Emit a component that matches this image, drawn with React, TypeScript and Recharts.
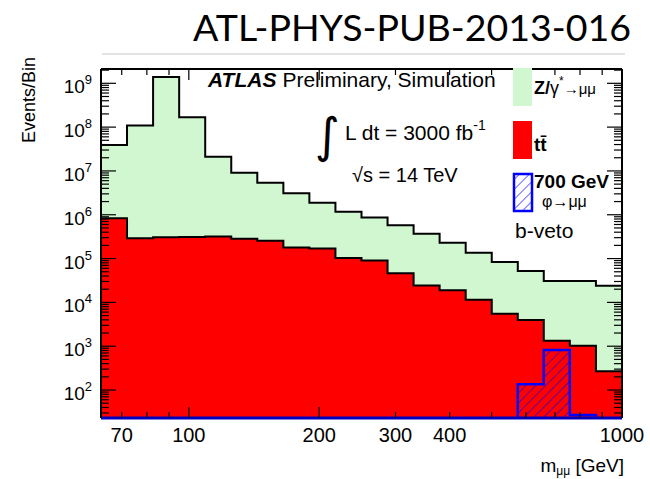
import React from 'react';
import { ComposedChart, Area, XAxis, YAxis } from 'recharts';

// bin edges of m_mumu [GeV] (20 log bins)
const EDGES = [62.7, 72.0, 82.7, 95.0, 109.1, 125.3, 143.9, 165.3, 189.8, 218.0, 250.4,
  287.6, 330.3, 379.3, 435.7, 500.4, 574.7, 659.8, 757.8, 870.6, 1000];
// events per bin
const ZMUMU = [3.8e7, 1.08e8, 1.39e9, 1.67e8, 2.07e7, 8.8e6, 5.15e6, 2.92e6, 1.71e6, 1.07e6,
  7.8e5, 5.3e5, 3.45e5, 2.1e5, 1.25e5, 7.75e4, 4.8e4, 2.94e4, 2.97e4, 2.37e4];
const TTBAR = [8.3e5, 2.9e5, 3.05e5, 3.1e5, 3.2e5, 2.85e5, 2.55e5, 1.8e5, 1.7e5, 1.03e5,
  9.0e4, 4.6e4, 2.43e4, 1.9e4, 1.15e4, 5.5e3, 3.95e3, 1.33e3, 1.03e3, 2.67e2];
const SIGNAL = [0, 0, 0, 0, 0, 0, 0, 0, 0, 0, 0, 0, 0, 0, 0, 0, 135, 820, 27, 0];

const X_TICKS = [70, 80, 90, 100, 200, 300, 400, 500, 600, 700, 800, 900, 1000];
const X_LONG = [100, 200, 1000];
const X_LABELS = [70, 100, 200, 300, 400, 1000];
const Y_LABELS = [1e2, 1e3, 1e4, 1e5, 1e6, 1e7, 1e8, 1e9];

const X_MIN = 62.7;
const X_MAX = 1000;
const Y_MIN = 23;
const Y_MAX = 2.12e9;
const SIG_FLOOR = 1; // empty signal bins sit below the frame

const GREEN = '#d0f7d0';
const RED = '#ff0000';
const BLUE = '#0000ff';
const FONT = "'Liberation Sans', Arial, Helvetica, sans-serif";

const data = EDGES.map((m, i) => {
  const j = Math.min(i, ZMUMU.length - 1);
  return {
    m,
    total: ZMUMU[j] + TTBAR[j],
    tt: TTBAR[j],
    sig: SIGNAL[j] > 0 ? SIGNAL[j] : SIG_FLOOR,
  };
});

// minor + major ticks on log y
const yTicks: number[] = [];
for (let d = 1; d <= 9; d++) {
  for (let k = 1; k <= 9; k++) {
    const v = k * Math.pow(10, d);
    if (v >= Y_MIN && v <= Y_MAX) yTicks.push(v);
  }
}
const isMajorY = (v: number) => Math.abs(Math.log10(v) - Math.round(Math.log10(v))) < 1e-9;

const LeftTick = (props: any) => {
  const { x, y, payload } = props;
  const v = payload.value;
  const major = isMajorY(v);
  return (
    <g>
      <line x1={x} x2={x + (major ? 15 : 8)} y1={y} y2={y} stroke="#000" strokeWidth={1.2} />
      {major && Y_LABELS.includes(v) && (
        <text x={x - 9} y={y + 10} textAnchor="end" fontSize={19} fontFamily={FONT} fill="#000">
          10<tspan dy={-9} fontSize={13}>{Math.round(Math.log10(v))}</tspan>
        </text>
      )}
    </g>
  );
};

const RightTick = (props: any) => {
  const { x, y, payload } = props;
  const major = isMajorY(payload.value);
  return <line x1={x} x2={x - (major ? 15 : 8)} y1={y} y2={y} stroke="#000" strokeWidth={1.2} />;
};

const BottomTick = (props: any) => {
  const { x, y, payload } = props;
  const v = payload.value;
  const long = X_LONG.includes(v);
  return (
    <g>
      <line x1={x} x2={x} y1={y} y2={y - (long ? 11 : 6)} stroke="#000" strokeWidth={1.2} />
      {X_LABELS.includes(v) && (
        <text x={x} y={y + 24} textAnchor="middle" fontSize={20} fontFamily={FONT} fill="#000">
          {v}
        </text>
      )}
    </g>
  );
};

const TopTick = (props: any) => {
  const { x, y, payload } = props;
  const long = X_LONG.includes(payload.value);
  return <line x1={x} x2={x} y1={y} y2={y + (long ? 11 : 6)} stroke="#000" strokeWidth={1.2} />;
};

export default function App() {
  return (
    <div style={{ position: 'absolute', left: 0, top: 0, width: 650, height: 479, background: '#fff' }}>
      <ComposedChart width={650} height={479} data={data} margin={{ top: 68, right: 27, bottom: 60, left: 0 }}>
        <defs>
          <pattern id="hatch" patternUnits="userSpaceOnUse" width={7} height={7} patternTransform="rotate(45)">
            <line x1={0} y1={0} x2={0} y2={7} stroke={BLUE} strokeWidth={1.2} />
          </pattern>
        </defs>
        <Area
          type="stepAfter"
          dataKey="total"
          baseValue={Y_MIN}
          fill={GREEN}
          fillOpacity={1}
          stroke="#000"
          strokeWidth={2}
          isAnimationActive={false}
          dot={false}
          activeDot={false}
        />
        {/* same domains as the main axes, bound to the mirrored frame axes */}
        <Area
          xAxisId="top"
          yAxisId="right"
          type="stepAfter"
          dataKey="tt"
          baseValue={Y_MIN}
          fill={RED}
          fillOpacity={1}
          stroke="#000"
          strokeWidth={2}
          isAnimationActive={false}
          dot={false}
          activeDot={false}
        />
        <Area
          type="stepAfter"
          dataKey="sig"
          baseValue={Y_MIN}
          fill="url(#hatch)"
          fillOpacity={1}
          stroke={BLUE}
          strokeWidth={2.5}
          isAnimationActive={false}
          dot={false}
          activeDot={false}
        />
        <XAxis
          dataKey="m"
          type="number"
          scale="log"
          domain={[X_MIN, X_MAX]}
          allowDataOverflow
          ticks={X_TICKS}
          interval={0}
          height={1}
          tickSize={0}
          tickMargin={0}
          tickLine={false}
          tick={<BottomTick />}
          axisLine={{ stroke: '#0000c0', strokeWidth: 3 }}
        />
        <XAxis
          xAxisId="top"
          orientation="top"
          dataKey="m"
          type="number"
          scale="log"
          domain={[X_MIN, X_MAX]}
          allowDataOverflow
          ticks={X_TICKS}
          interval={0}
          height={1}
          tickSize={0}
          tickMargin={0}
          tickLine={false}
          tick={<TopTick />}
          axisLine={{ stroke: '#000', strokeWidth: 2 }}
        />
        <YAxis
          type="number"
          scale="log"
          domain={[Y_MIN, Y_MAX]}
          allowDataOverflow
          ticks={yTicks}
          interval={0}
          width={101}
          tickSize={0}
          tickMargin={0}
          tickLine={false}
          tick={<LeftTick />}
          axisLine={{ stroke: '#000', strokeWidth: 2 }}
        />
        <YAxis
          yAxisId="right"
          orientation="right"
          type="number"
          scale="log"
          domain={[Y_MIN, Y_MAX]}
          allowDataOverflow
          ticks={yTicks}
          interval={0}
          width={1}
          tickSize={0}
          tickMargin={0}
          tickLine={false}
          tick={<RightTick />}
          axisLine={{ stroke: '#000', strokeWidth: 2 }}
        />
      </ComposedChart>

      <svg width={650} height={479} style={{ position: 'absolute', left: 0, top: 0, pointerEvents: 'none' }}>
        <defs>
          <pattern id="hatchLeg" patternUnits="userSpaceOnUse" width={7} height={7} patternTransform="rotate(45)">
            <line x1={0} y1={0} x2={0} y2={7} stroke={BLUE} strokeWidth={1.2} />
          </pattern>
        </defs>
        <text x={193} y={41} fontSize={36} fontFamily="Lato, 'Open Sans', sans-serif" textLength={438} lengthAdjust="spacingAndGlyphs" fill="#000">
          ATL-PHYS-PUB-2013-016
        </text>
        <line x1={102} x2={625} y1={54} y2={54} stroke="#c8c8c8" strokeWidth={1} />

        <text x={208} y={87} fontSize={21} fontFamily={FONT} fill="#000">
          <tspan fontWeight="bold" fontStyle="italic">ATLAS</tspan>
          <tspan dx={6}>Preliminary, Simulation</tspan>
        </text>
        <text x={315} y={152} fontSize={48} fontFamily="'DejaVu Sans', sans-serif" fill="#000">∫</text>
        <text x={345} y={140} fontSize={21} fontFamily={FONT} fill="#000">
          L dt = 3000 fb<tspan dy={-10} fontSize={14}>-1</tspan>
        </text>
        <text x={352} y={182} fontSize={20} fontFamily={FONT} fill="#000">√s = 14 TeV</text>

        <rect x={513} y={68} width={19} height={38} fill={GREEN} />
        <text x={534} y={94} fontSize={18} fontFamily={FONT} fill="#000">
          <tspan fontWeight="bold">Z/</tspan>
          <tspan>γ</tspan>
          <tspan dy={-9} fontSize={12}>*</tspan>
          <tspan dy={9} fontSize={15}>→μμ</tspan>
        </text>
        <rect x={513} y={121} width={19} height={38} fill={RED} />
        <text x={534} y={151} fontSize={19} fontWeight="bold" fontFamily={FONT} fill="#000">tt̄</text>
        <rect x={514} y={174} width={18} height={37} fill="url(#hatchLeg)" stroke={BLUE} strokeWidth={2.5} />
        <text x={534} y={188} fontSize={19} fontWeight="bold" fontFamily={FONT} fill="#000">700 GeV</text>
        <text x={542} y={207} fontSize={16} fontFamily={FONT} fill="#000">φ→μμ</text>
        <text x={515} y={238} fontSize={21} fontFamily={FONT} fill="#000">b-veto</text>

        <text transform="translate(35,143) rotate(-90)" fontSize={18} fontFamily={FONT} fill="#000">Events/Bin</text>
        <text x={624} y={472} textAnchor="end" fontSize={19} fontFamily={FONT} fill="#000">
          m<tspan dy={3} fontSize={12}>μμ</tspan>
          <tspan dy={-3}> [GeV]</tspan>
        </text>
      </svg>
    </div>
  );
}
